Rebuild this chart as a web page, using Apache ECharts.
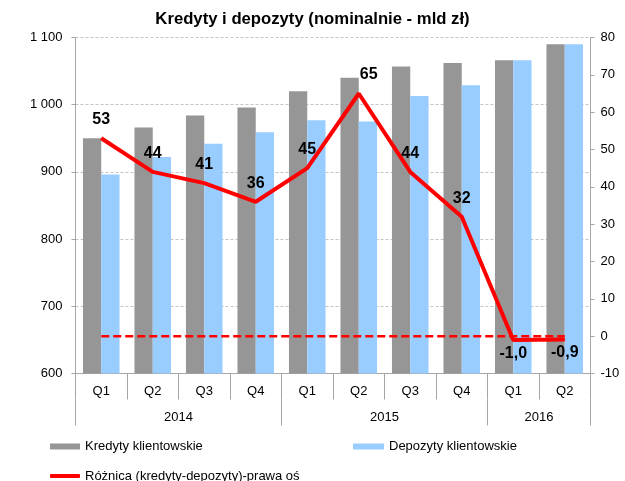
<!DOCTYPE html>
<html lang="pl">
<head>
	<meta charset="UTF-8">
	<title>Kredyty i depozyty</title>
	<script src="https://cdn.jsdelivr.net/npm/echarts@6/dist/echarts.min.js"></script>
	<style>
		html, body { margin: 0; padding: 0; background: #fff; }
		#chart { width: 625px; height: 481px; }
	</style>
</head>
<body>
<div id="chart"></div>
<script>
	// dane
	var quarters = ['Q1', 'Q2', 'Q3', 'Q4', 'Q1', 'Q2', 'Q3', 'Q4', 'Q1', 'Q2'];
	var years = ['2014', '2015', '2016'];
	var quartersPerYear = [4, 4, 2];
	var kredyty = [950, 966, 984, 996, 1020, 1040, 1057, 1062, 1066, 1090];
	var depozyty = [896, 922, 942, 959, 977, 975, 1013, 1029, 1066, 1090];
	var roznica = [53, 44, 41, 36, 45, 65, 44, 32, -1.0, -0.9];
	var zero = [0, 0, 0, 0, 0, 0, 0, 0, 0, 0];

	var axisGray = '#a6a6a6';
	var font = 'Liberation Sans, Arial, sans-serif';

	// granice lat i środki etykiet na osi lat
	var yearTicks = [0], yearCenters = [];
	var acc = 0;
	for (var i = 0; i < quartersPerYear.length; i++) {
		yearCenters.push(acc + quartersPerYear[i] / 2);
		acc += quartersPerYear[i];
		yearTicks.push(acc);
	}

	function fmtThousands(v) {
		return String(v).replace(/\B(?=(\d{3})+(?!\d))/g, ' ');
	}
	function fmtDiff(v) {
		return Math.abs(v) < 5 ? v.toFixed(1).replace('.', ',') : String(Math.round(v));
	}

	// etykiety: ujemne pod linią, szczyt lekko przesunięty w prawo
	var maxDiff = Math.max.apply(null, roznica);
	var lineData = [];
	for (var j = 0; j < roznica.length; j++) {
		var v = roznica[j];
		var lbl = v < 0
			? { show: true, position: 'bottom', distance: 5 }
			: { show: true, position: 'top', distance: 10 };
		if (v === maxDiff) lbl.offset = [10, 0];
		lineData.push({ value: v, label: lbl });
	}

	var myChart = echarts.init(document.getElementById('chart'));
	var option = {
		animation: false,
		textStyle: { fontFamily: font },
		title: {
			text: 'Kredyty i depozyty (nominalnie - mld zł)',
			left: 'center',
			top: 6,
			textStyle: { fontSize: 16.7, fontWeight: 'bold', color: '#000', fontFamily: font }
		},
		grid: { left: 75.5, right: 34.5, top: 37.5, bottom: 107.5, containLabel: false },
		legend: [
			{ data: ['Kredyty klientowskie'], left: 45, top: 435, itemWidth: 30, itemHeight: 6, icon: 'rect',
				textStyle: { fontSize: 13, color: '#000', fontFamily: font } },
			{ data: ['Depozyty klientowskie'], left: 348, top: 435, itemWidth: 31, itemHeight: 6, icon: 'rect',
				textStyle: { fontSize: 13, color: '#000', fontFamily: font } },
			{ data: ['Różnica (kredyty-depozyty)-prawa oś'], left: 45, top: 464.5, itemWidth: 30, itemHeight: 4, icon: 'roundRect',
				textStyle: { fontSize: 13, color: '#000', fontFamily: font } }
		],
		xAxis: [
			{
				type: 'category',
				data: quarters,
				boundaryGap: true,
				axisLine: { onZero: false, lineStyle: { color: axisGray, width: 1 } },
				axisTick: { show: true, interval: 0, length: 26, lineStyle: { color: axisGray } },
				axisLabel: { interval: 0, margin: 11, fontSize: 13, color: '#000', fontFamily: font }
			},
			{
				type: 'value',
				min: 0,
				max: quarters.length,
				position: 'bottom',
				offset: 26,
				splitLine: { show: false },
				axisLine: { show: false, onZero: false },
				axisTick: { show: true, length: 26, customValues: yearTicks, lineStyle: { color: axisGray } },
				axisLabel: {
					customValues: yearCenters,
					margin: 11,
					fontSize: 13,
					color: '#000',
					fontFamily: font,
					formatter: function (val) {
						var k = yearCenters.indexOf(val);
						return k >= 0 ? years[k] : '';
					}
				}
			}
		],
		yAxis: [
			{
				type: 'value',
				min: 600,
				max: 1100,
				interval: 100,
				axisLine: { show: true, lineStyle: { color: axisGray } },
				axisTick: { show: true, length: 4, lineStyle: { color: axisGray } },
				axisLabel: { margin: 13, fontSize: 13, color: '#000', fontFamily: font, formatter: fmtThousands },
				splitLine: { show: true, lineStyle: { color: '#c4c4c4', type: [3, 2], width: 1 } }
			},
			{
				type: 'value',
				min: -10,
				max: 80,
				interval: 10,
				position: 'right',
				axisLine: { show: true, lineStyle: { color: axisGray } },
				axisTick: { show: true, length: 4, lineStyle: { color: axisGray } },
				axisLabel: { margin: 10, fontSize: 13, color: '#000', fontFamily: font },
				splitLine: { show: false }
			}
		],
		series: [
			{
				name: 'Kredyty klientowskie',
				type: 'bar',
				data: kredyty,
				barGap: '0%',
				barCategoryGap: '29%',
				itemStyle: { color: '#969696' }
			},
			{
				name: 'Depozyty klientowskie',
				type: 'bar',
				data: depozyty,
				itemStyle: { color: '#99ccff' }
			},
			{
				name: 'zero',
				type: 'line',
				yAxisIndex: 1,
				data: zero,
				symbol: 'none',
				silent: true,
				lineStyle: { color: '#ff0000', width: 2.5, type: [8, 4] },
				z: 3
			},
			{
				name: 'Różnica (kredyty-depozyty)-prawa oś',
				type: 'line',
				yAxisIndex: 1,
				data: lineData,
				symbol: 'circle',
				symbolSize: 1,
				showSymbol: true,
				lineStyle: { color: '#ff0000', width: 4 },
				itemStyle: { color: '#ff0000' },
				label: {
					show: true,
					fontSize: 16,
					fontWeight: 'bold',
					color: '#000',
					fontFamily: font,
					formatter: function (p) { return fmtDiff(p.value); }
				},
				z: 4
			}
		]
	};
	myChart.setOption(option);
</script>
</body>
</html>
